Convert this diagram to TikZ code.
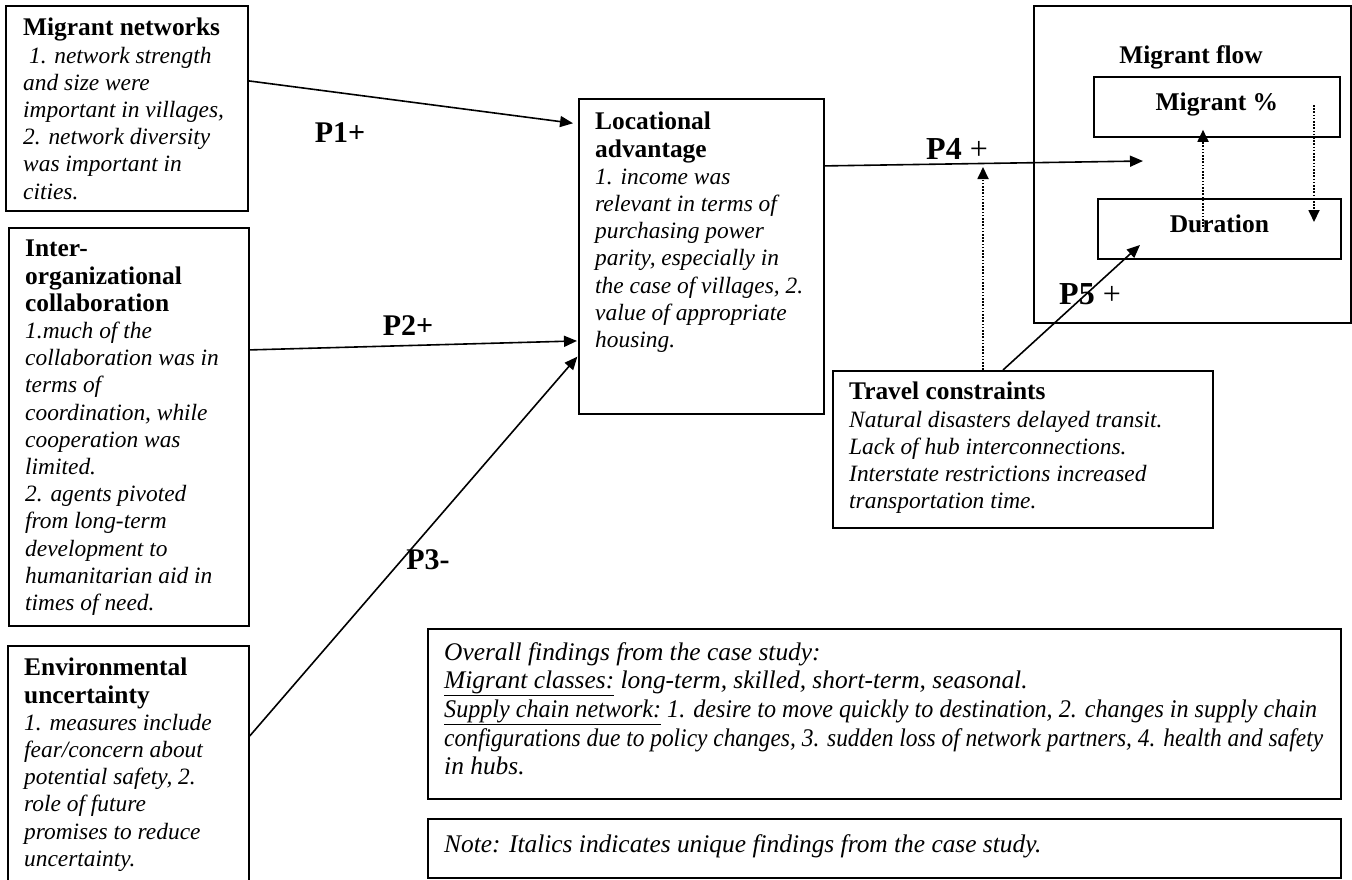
\documentclass[tikz,border=0pt]{standalone}
\usepackage{fontspec}
\usepackage{graphicx}
\setmainfont{Liberation Serif}
\usetikzlibrary{arrows.meta,calc}
\newcommand{\boxtitle}[1]{{\upshape\bfseries\fontsize{25.4}{27.2}\selectfont #1}}
\begin{document}
\begin{tikzpicture}[x=1pt,y=-1pt,
  frame/.style={draw, line width=1.8pt, inner sep=0pt, anchor=north west},
  txt/.style={anchor=north west, inner sep=0pt, align=left, font=\fontsize{23.4}{27.2}\selectfont\itshape},
  bigtxt/.style={anchor=north west, inner sep=0pt, align=left, font=\fontsize{25.4}{28.7}\selectfont\itshape},
  plab/.style={inner sep=0pt, font=\fontsize{30}{30}\selectfont\bfseries},
  plabb/.style={inner sep=0pt, font=\fontsize{32}{32}\selectfont\bfseries},
  arr/.style={line width=1.6pt, -{Triangle[length=13pt,width=11pt]}},
  dotarr/.style={line width=1.8pt, dash pattern=on 1.6pt off 1.6pt, -{Triangle[length=12pt,width=11pt]}},
  inbox/.style={frame, text height=17pt, text depth=9pt, font=\fontsize{25.5}{26}\selectfont\bfseries}
]
\clip (0,0) rectangle (1352,879);
\useasboundingbox (0,0) rectangle (1352,879);

% left boxes
\node[frame, minimum width=242pt, minimum height=205pt] (mn) at (5,5) {};
\node[txt] (mnt) at ($(mn.north west)+(18,13)$) {\boxtitle{Migrant networks}\\
\ 1. network strength\\ and size were\\ important in villages,\\ 2. network diversity\\ was important in\\ cities.};

\node[frame, minimum width=240pt, minimum height=398pt] (ioc) at (8,227) {};
\node[txt] (ioct) at ($(ioc.north west)+(17,13)$) {\boxtitle{Inter-}\\ \boxtitle{organizational}\\ \boxtitle{collaboration}\\
1.much of the\\ collaboration was in\\ terms of\\ coordination, while\\ cooperation was\\ limited.\\ 2. agents pivoted\\ from long-term\\ development to\\ humanitarian aid in\\ times of need.};

\node[frame, minimum width=241pt, minimum height=250pt] (env) at (7,645) {};
\node[txt] (envt) at ($(env.north west)+(17,13)$) {\boxtitle{Environmental}\\ \boxtitle{uncertainty}\\
1. measures include\\ fear/concern about\\ potential safety, 2.\\ role of future\\ promises to reduce\\ uncertainty.};

% locational advantage
\node[frame, minimum width=245pt, minimum height=315pt] (loc) at (578,98) {};
\node[txt] (loct) at ($(loc.north west)+(17,14)$) {\boxtitle{Locational}\\ \boxtitle{advantage}\\
1. income was\\ relevant in terms of\\ purchasing power\\ parity, especially in\\ the case of villages, 2.\\ value of appropriate\\ housing.};

% migrant flow
\node[frame, minimum width=317pt, minimum height=317pt] (mf) at (1033,5) {};
\node[anchor=base, inner sep=0pt, font=\fontsize{25.4}{26}\selectfont\bfseries] (mft) at (1191,63) {Migrant flow};
\node[inbox, minimum width=246pt, minimum height=60pt] (mp) at (1093,76) {Migrant \%};
\node[inbox, minimum width=243pt, minimum height=60pt] (du) at (1097,198) {Duration};

% travel constraints
\node[frame, minimum width=380pt, minimum height=157pt] (tc) at (832,370) {};
\node[txt] (tct) at ($(tc.north west)+(17,12)$) {\boxtitle{Travel constraints}\\
Natural disasters delayed transit.\\ Lack of hub interconnections.\\ Interstate restrictions increased\\ transportation time.};

% bottom boxes
\node[frame, minimum width=913pt, minimum height=170pt] (ov) at (427,628) {};
\node[bigtxt] (ovt) at ($(ov.north west)+(17,14)$) {Overall findings from the case study:\\
\underline{Migrant classes:} long-term, skilled, short-term, seasonal.\\
\resizebox{873pt}{\height}{\underline{Supply chain network:} 1. desire to move quickly to destination, 2. changes in supply chain}\\
\resizebox{879pt}{\height}{configurations due to policy changes, 3. sudden loss of network partners, 4. health and safety}\\
in hubs.};

\node[frame, minimum width=913pt, minimum height=59pt] (nt) at (427,818) {};
\node[bigtxt] (ntt) at ($(nt.north west)+(17,16)$) {Note: Italics indicates unique findings from the case study.};

% coordinates for free ends
\coordinate (p4e) at (1143,161);
\coordinate (p45) at (983,167);
\coordinate (p5e) at (1140,245);

% connectors
\draw[arr, shorten >=5pt] ([yshift=27.5pt]mn.east) -- ([yshift=132.5pt]loc.west);
\draw[arr, shorten >=1pt] ([yshift=77pt]ioc.east) -- ([yshift=-84.5pt]loc.west);
\draw[arr, shorten >=1pt] ([yshift=35pt]env.east) -- ([yshift=-99.5pt]loc.west);
\draw[arr] ([yshift=90.5pt]loc.east) -- (p4e);
\draw[dotarr] ($(tc.north west)+(151,0)$) -- (p45);
\draw[arr] ($(tc.north west)+(171,0)$) -- (p5e);
\draw[dotarr] ($(du.north west)+(106,29)$) -- ($(mp.south west)+(110,-8)$);
\draw[dotarr] ($(mp.north west)+(221,29)$) -- ($(du.north west)+(217,24)$);

% labels
\node[plab] (l1) at (340,133) {P1+};
\node[plab] (l2) at (408,326) {P2+};
\node[plab] (l3) at (428,560) {P3-};
\node[plabb] (l4) at (957,149) {P4 {\mdseries +}};
\node[plabb] (l5) at (1090,294) {P5 {\mdseries +}};
\end{tikzpicture}
\end{document}
